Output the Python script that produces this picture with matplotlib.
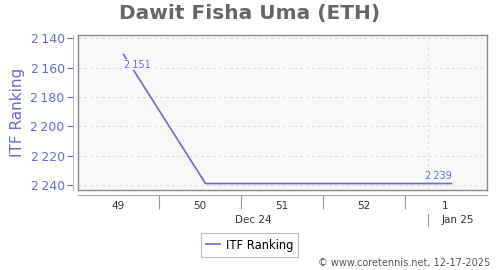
import matplotlib
matplotlib.use("Agg")
import matplotlib.pyplot as plt
import matplotlib.dates as mdates
import matplotlib.transforms as mtransforms
import numpy as np

# ---- data ----
dates = ["2024-12-06", "2024-12-13", "2024-12-20", "2024-12-27", "2025-01-03"]
ranking = [2151, 2239, 2239, 2239, 2239]
series_name = "ITF Ranking"
title = "Dawit Fisha Uma (ETH)"
week_labels = ["49", "50", "51", "52", "1"]
week_starts = ["2024-12-02", "2024-12-09", "2024-12-16", "2024-12-23", "2024-12-30"]
month_labels = ["Dec 24", "Jan 25"]
month_starts = ["2024-12-01", "2025-01-01"]
y_ticks = [2140, 2160, 2180, 2200, 2220, 2240]

W, H = 500, 270
fig = plt.figure(figsize=(W / 100, H / 100), dpi=100)
L, R, T, B = 78, 487, 35, 190
ax = fig.add_axes([L / W, 1 - B / H, (R - L) / W, (B - T) / H])
ax.set_facecolor("#f8f8f8")

x = mdates.date2num(np.array(dates, dtype="datetime64[D]"))
line_color = "#6a6ad2"
ax.plot(x, ranking, color=line_color, lw=1.2, zorder=3, label=series_name)

d0 = mdates.date2num(np.datetime64("2024-12-01"))
ax.set_xlim(d0 + 1.11, d0 + 36.04)
ax.set_ylim(2243.4, 2137.8)

# grid
ax.set_yticks(y_ticks)
ax.grid(axis="y", color="#dcdcdc", ls=(0, (3, 3)), lw=0.7)
jan1 = mdates.date2num(np.datetime64(month_starts[1]))
ax.axvline(jan1, color="#dcdcdc", ls=(0, (3, 3)), lw=0.7, zorder=1)
ax.tick_params(left=False, labelleft=False, bottom=False, labelbottom=False)
ax.set_xticks([])
for s in ax.spines.values():
    s.set_color("#888888")
    s.set_linewidth(1.0)

# data labels
lbl_kw = dict(color=line_color, fontsize=7, zorder=4)
ax.annotate("2\u2009151", (x[0], ranking[0]), xytext=(0, -4), textcoords="offset points",
            ha="left", va="top",
            bbox=dict(boxstyle="square,pad=0.05", fc="#f8f8f8", ec="none"), **lbl_kw)
ax.annotate("2\u2009239", (x[-1], ranking[-1]), xytext=(0, 2), textcoords="offset points",
            ha="right", va="bottom", **lbl_kw)

# y axis (separate, offset left)
tick_color = "#6a6ad2"
yax = ax.secondary_yaxis(-5 / (R - L))
yax.set_yticks(y_ticks)
yax.set_yticklabels([f"{v // 1000}\u2009{v % 1000:03d}" for v in y_ticks])
yax.tick_params(axis="y", colors=tick_color, labelsize=9, length=4, width=0.8, pad=2)
yax.spines["left"].set_color("#b8b8e8")
yax.set_ylabel(series_name, color=tick_color, fontsize=11, labelpad=4)

# x axis (separate, offset below)
xax = ax.secondary_xaxis(-5 / (B - T))
ws = mdates.date2num(np.array(week_starts, dtype="datetime64[D]"))
xax.set_xticks(ws[1:])
xax.set_xticklabels([])
xax.set_xticks(ws + 3.5, minor=True)
xax.set_xticklabels(week_labels, minor=True)
xax.tick_params(axis="x", which="major", length=10, width=0.8, color="#999999", direction="out")
xax.tick_params(axis="x", which="minor", length=0, labelsize=7.5, labelcolor="#333333", pad=4)
xax.spines["bottom"].set_color("#aaaaaa")

# month row
trans = mtransforms.blended_transform_factory(ax.transData, fig.transFigure)
lo, hi = ax.get_xlim()
ms = mdates.date2num(np.array(month_starts, dtype="datetime64[D]"))
bounds = [max(ms[0], lo), ms[1], hi]
for i, lab in enumerate(month_labels):
    cx = (bounds[i] + bounds[i + 1]) / 2
    fig.text(cx, 1 - 220 / H, lab, transform=trans, ha="center", va="center",
             fontsize=7.5, color="#333333")
ax.plot([jan1, jan1], [1 - 214 / H, 1 - 226 / H], transform=trans, color="#999999",
        lw=0.8, clip_on=False)

fig.text(250 / W, 1 - 14 / H, title, ha="center", va="center", fontsize=14.5,
         fontweight="bold", color="#666666")

leg = fig.legend(loc="center", bbox_to_anchor=(249.5 / W, 1 - 245 / H), fontsize=8.3,
                 fancybox=False, edgecolor="#aaaaaa", handlelength=1.2, borderpad=0.45,
                 handletextpad=0.5)
leg.get_frame().set_linewidth(0.8)

fig.text(490 / W, 1 - 263 / H, "\u00a9 www.coretennis.net, 12-17-2025", ha="right",
         va="center", fontsize=7, color="#555555")

fig.savefig("out.png", dpi=100)
